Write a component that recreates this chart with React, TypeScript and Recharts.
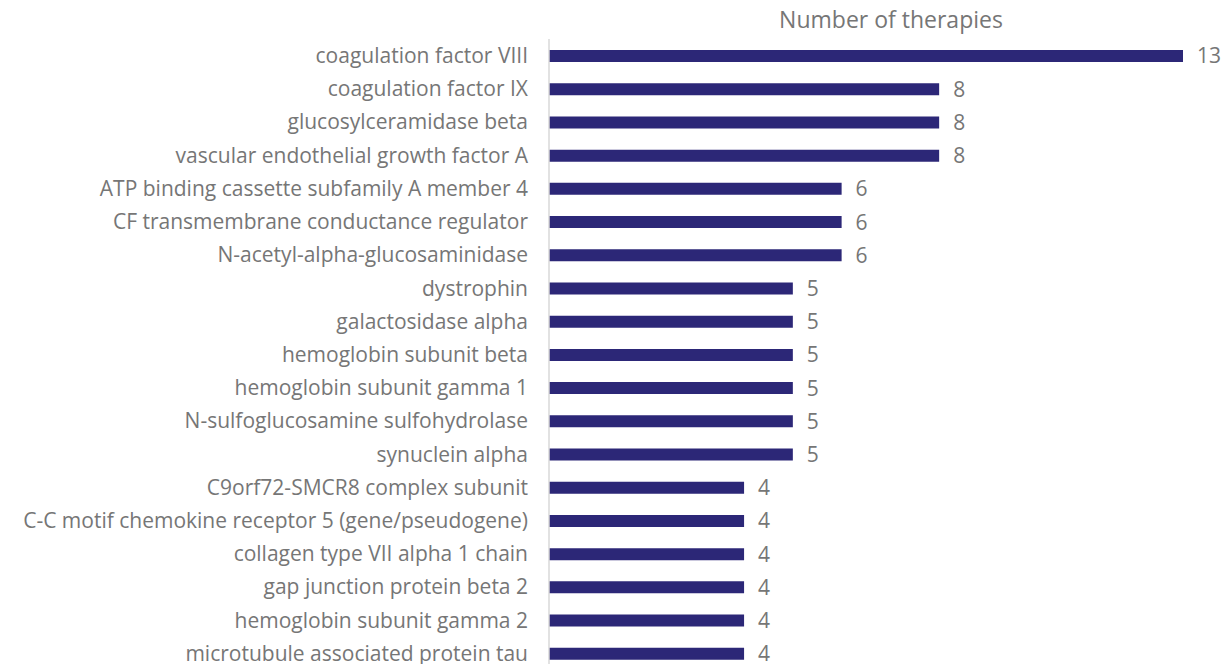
import { Bar, BarChart, LabelList, XAxis, YAxis } from "recharts";

const genes = [
  "coagulation factor VIII",
  "coagulation factor IX",
  "glucosylceramidase beta",
  "vascular endothelial growth factor A",
  "ATP binding cassette subfamily A member 4",
  "CF transmembrane conductance regulator",
  "N-acetyl-alpha-glucosaminidase",
  "dystrophin",
  "galactosidase alpha",
  "hemoglobin subunit beta",
  "hemoglobin subunit gamma 1",
  "N-sulfoglucosamine sulfohydrolase",
  "synuclein alpha",
  "C9orf72-SMCR8 complex subunit",
  "C-C motif chemokine receptor 5 (gene/pseudogene)",
  "collagen type VII alpha 1 chain",
  "gap junction protein beta 2",
  "hemoglobin subunit gamma 2",
  "microtubule associated protein tau",
];

const therapies = [13, 8, 8, 8, 6, 6, 6, 5, 5, 5, 5, 5, 5, 4, 4, 4, 4, 4, 4];

const title = "Number of therapies";

const data = genes.map((gene, i) => ({ gene, therapies: therapies[i] }));

const FONT = "'Open Sans', sans-serif";
const GRAY = "#767676";

const App = () => {
  return (
    <>
      <style>{`body{margin:0;overflow:hidden}`}</style>
      <div style={{ position: "relative", width: 1227, height: 664 }}>
        <div
          style={{
            position: "absolute",
            left: 891,
            top: 3,
            transform: "translateX(-50%)",
            fontFamily: FONT,
            fontSize: 23,
            color: GRAY,
            whiteSpace: "nowrap",
          }}
        >
          {title}
        </div>
        <BarChart
          width={1227}
          height={680}
          data={data}
          layout="vertical"
          barSize={12}
          margin={{ top: 39, right: 44, bottom: 10, left: 0 }}
        >
          <XAxis type="number" domain={[0, 13]} hide />
          <YAxis
            type="category"
            dataKey="gene"
            width={549}
            interval={0}
            tickLine={false}
            tickSize={0}
            tickMargin={21}
            axisLine={{ stroke: "#d9d9d9", strokeWidth: 1.5 }}
            tick={{ fill: GRAY, fontSize: 21, fontFamily: FONT }}
          />
          <Bar dataKey="therapies" fill="#2C2777" isAnimationActive={false}>
            <LabelList
              dataKey="therapies"
              position="right"
              offset={14}
              fill={GRAY}
              fontSize={21}
              fontFamily={FONT}
            />
          </Bar>
        </BarChart>
      </div>
    </>
  );
};

export default App;
